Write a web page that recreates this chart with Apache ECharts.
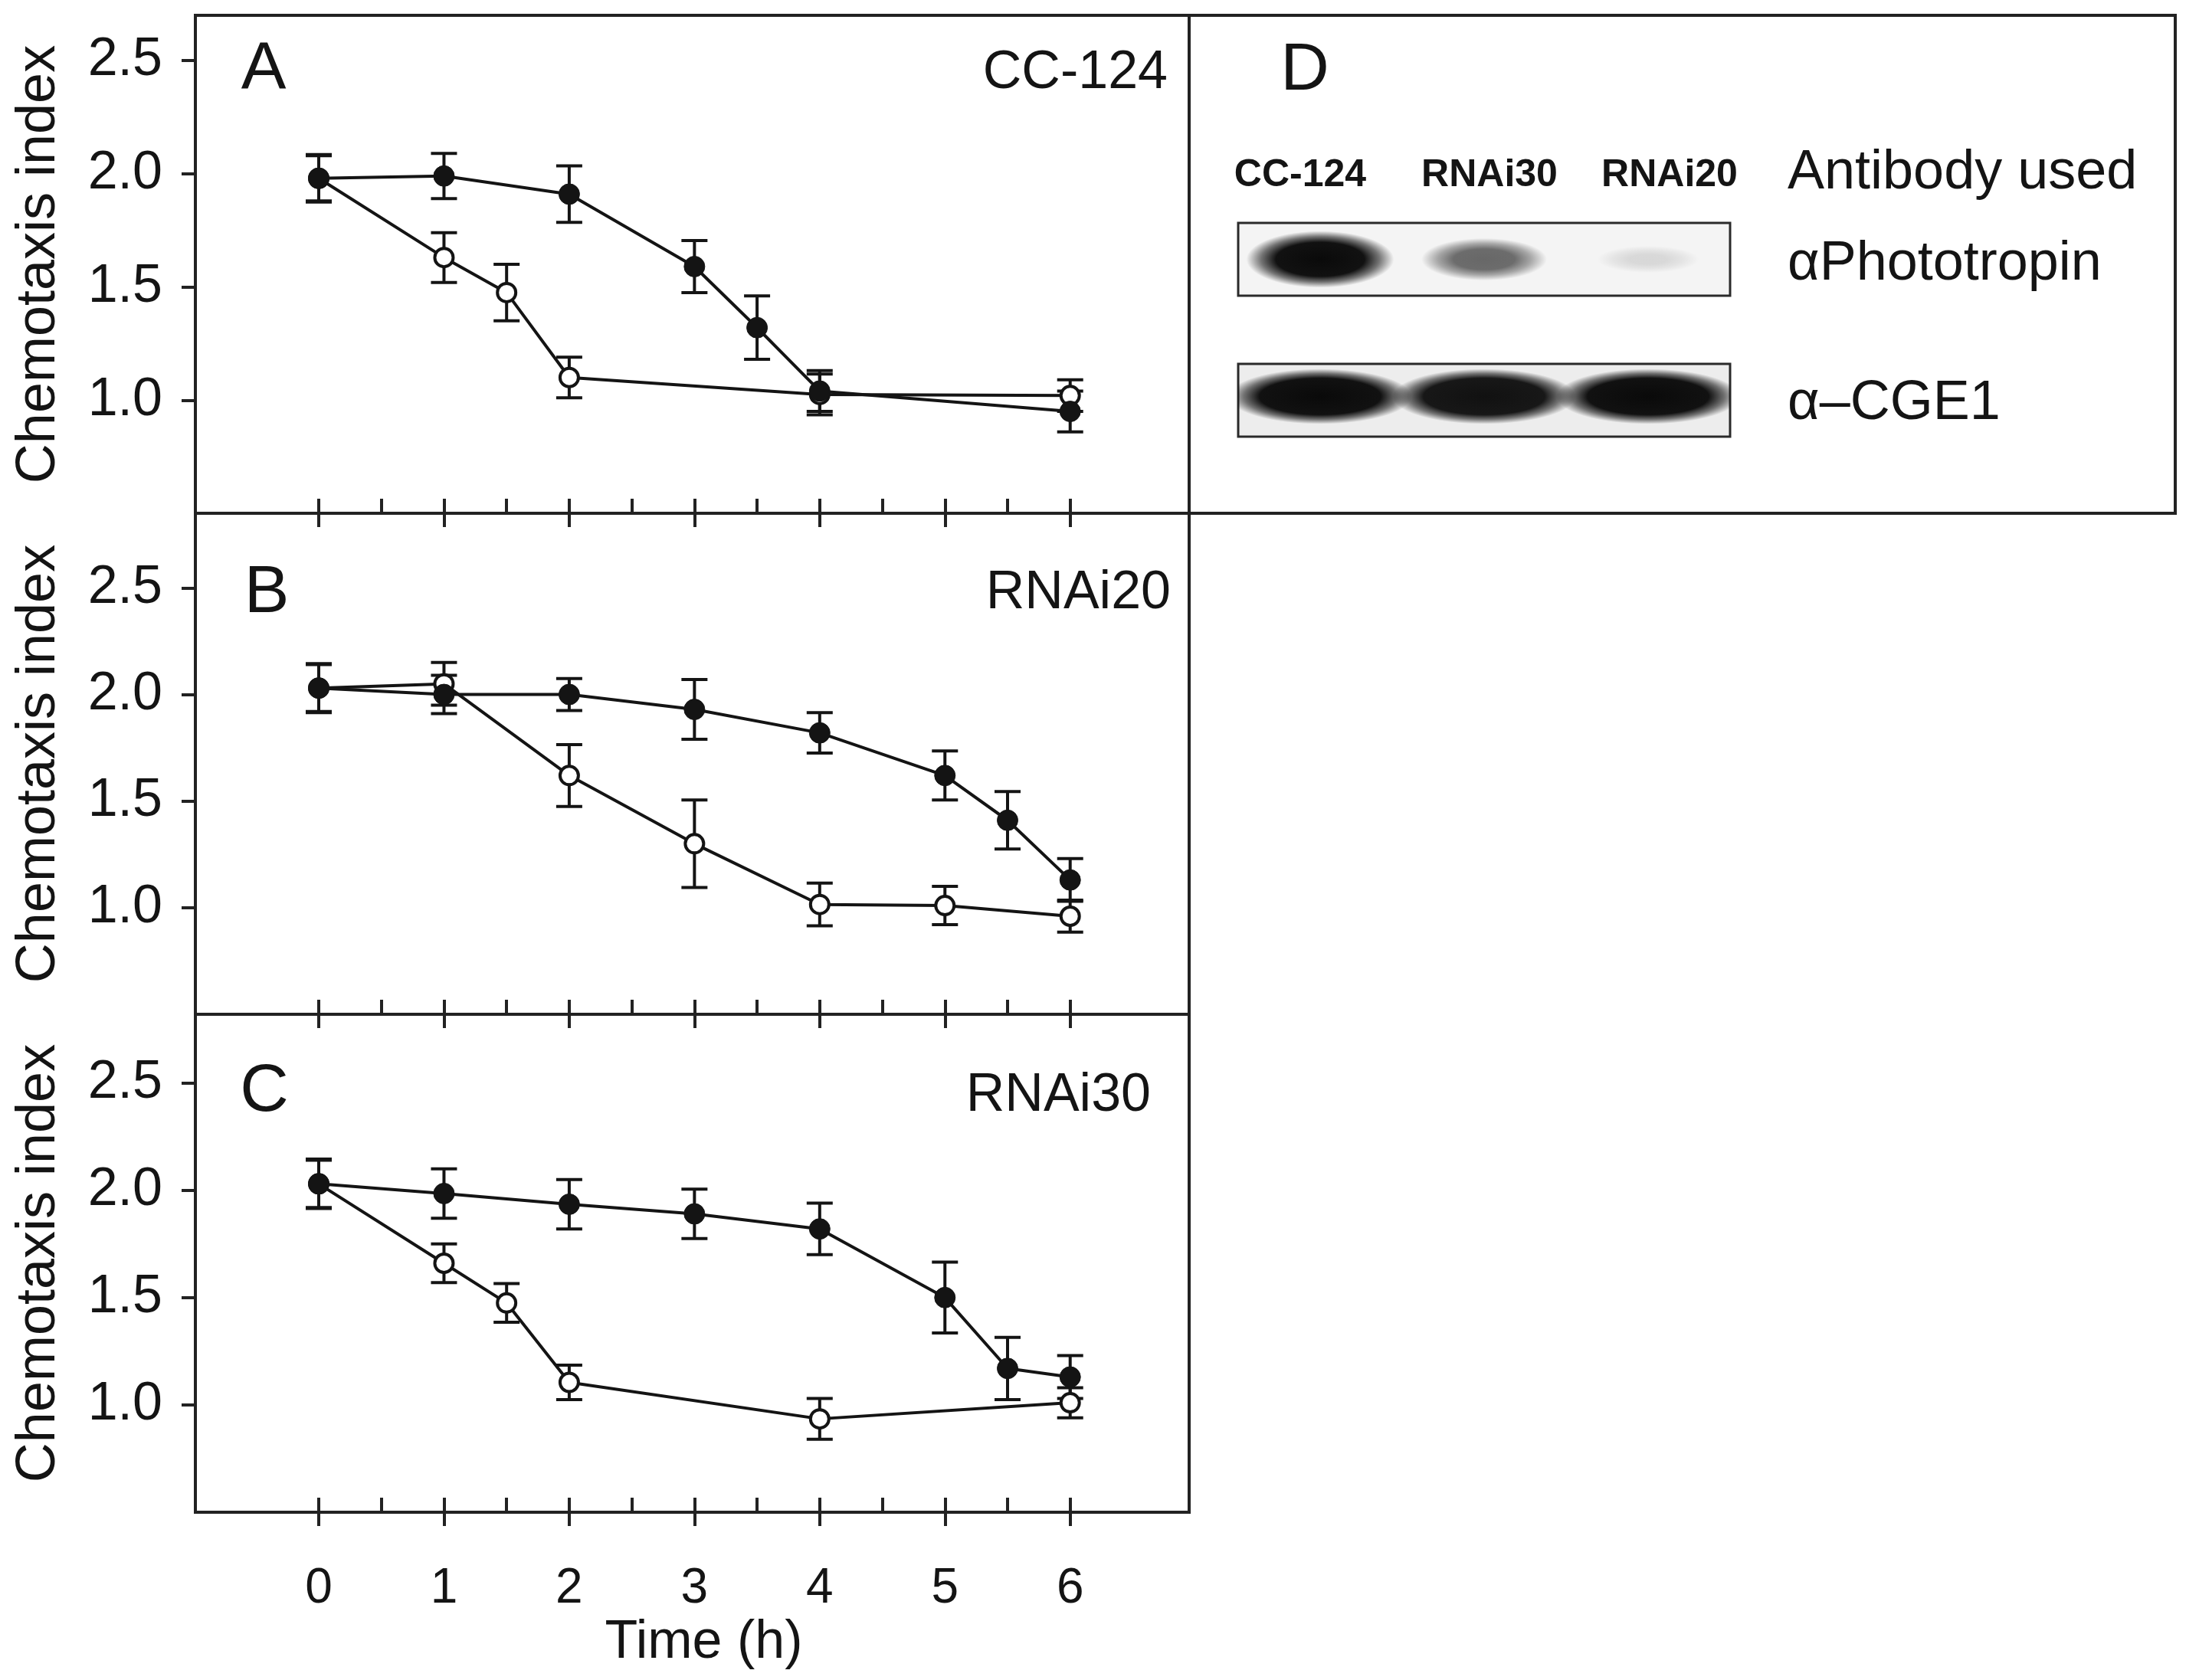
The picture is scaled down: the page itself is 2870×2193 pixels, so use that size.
<!DOCTYPE html>
<html><head><meta charset="utf-8">
<script src="https://cdn.jsdelivr.net/npm/echarts@6/dist/echarts.min.js"></script>
<style>html,body{margin:0;padding:0;background:#fff}#c{width:2870px;height:2193px}</style>
</head><body><div id="c"></div>
<script>
// ---------- data ----------
const timeTicks = [0, 1, 2, 3, 4, 5, 6];
const halfTicks = [0, 0.5, 1, 1.5, 2, 2.5, 3, 3.5, 4, 4.5, 5, 5.5, 6];
const yTicks = [1.0, 1.5, 2.0, 2.5];

// Panel A  (CC-124)
const aDarkTime = [0, 1, 2, 3, 3.5, 4, 6];
const aDarkMean = [1.98, 1.99, 1.91, 1.59, 1.32, 1.04, 0.95];
const aDarkErr  = [0.105, 0.10, 0.125, 0.115, 0.14, 0.09, 0.09];
const aLightTime = [0, 1, 1.5, 2, 4, 6];
const aLightMean = [1.98, 1.63, 1.475, 1.10, 1.025, 1.02];
const aLightErr  = [0.10, 0.11, 0.125, 0.09, 0.09, 0.07];

// Panel B  (RNAi20)
const bDarkTime = [0, 1, 2, 3, 4, 5, 5.5, 6];
const bDarkMean = [2.03, 2.00, 2.00, 1.93, 1.82, 1.62, 1.41, 1.13];
const bDarkErr  = [0.115, 0.09, 0.075, 0.14, 0.095, 0.115, 0.135, 0.10];
const bLightTime = [0, 1, 2, 3, 4, 5, 6];
const bLightMean = [2.03, 2.05, 1.62, 1.30, 1.015, 1.01, 0.96];
const bLightErr  = [0.11, 0.10, 0.145, 0.205, 0.10, 0.09, 0.075];

// Panel C  (RNAi30)
const cDarkTime = [0, 1, 2, 3, 4, 5, 5.5, 6];
const cDarkMean = [2.03, 1.985, 1.935, 1.89, 1.82, 1.50, 1.17, 1.13];
const cDarkErr  = [0.115, 0.115, 0.115, 0.115, 0.12, 0.165, 0.145, 0.10];
const cLightTime = [0, 1, 1.5, 2, 4, 6];
const cLightMean = [2.03, 1.66, 1.475, 1.105, 0.935, 1.01];
const cLightErr  = [0.11, 0.09, 0.09, 0.08, 0.095, 0.07];

const panelLetters = ['A', 'B', 'C'];
const strainNames = ['CC-124', 'RNAi20', 'RNAi30'];

// Panel D  (western blot, relative band signal per lane)
const blotLanes = ['CC-124', 'RNAi30', 'RNAi20'];
const phototropinSignal = [1.0, 0.55, 0.07];
const cge1Signal = [1.0, 0.97, 1.0];
const antibodyNames = ['\u03b1Phototropin', '\u03b1\u2013CGE1'];

// ---------- layout / style ----------
const FONT = '"Liberation Sans", Arial, Helvetica, sans-serif';
const INK = '#141414';
const panels = [
  { dark: [aDarkTime, aDarkMean, aDarkErr], light: [aLightTime, aLightMean, aLightErr], top: 20, height: 650, yMax: 2.70 },
  { dark: [bDarkTime, bDarkMean, bDarkErr], light: [bLightTime, bLightMean, bLightErr], top: 670, height: 654, yMax: 2.85 },
  { dark: [cDarkTime, cDarkMean, cDarkErr], light: [cLightTime, cLightMean, cLightErr], top: 1324, height: 650, yMax: 2.82 }
];
const GL = 255, GW = 1297, XMIN = -0.985, XMAX = 6.95;

const grid = [], xAxis = [], yAxis = [], series = [];

function pts(t, m) { return t.map((v, i) => [v, m[i]]); }
function errs(t, m, e) { return t.map((v, i) => [v, m[i] - e[i], m[i] + e[i]]); }

function errRender(params, api) {
  const x = api.value(0);
  const p1 = api.coord([x, api.value(1)]);
  const p2 = api.coord([x, api.value(2)]);
  const cap = 17;
  const st = { stroke: INK, lineWidth: 4, fill: null };
  return { type: 'group', children: [
    { type: 'line', shape: { x1: p1[0], y1: p1[1], x2: p2[0], y2: p2[1] }, style: st },
    { type: 'line', shape: { x1: p1[0] - cap, y1: p1[1], x2: p1[0] + cap, y2: p1[1] }, style: st },
    { type: 'line', shape: { x1: p2[0] - cap, y1: p2[1], x2: p2[0] + cap, y2: p2[1] }, style: st }
  ]};
}

panels.forEach((p, i) => {
  grid.push({ left: GL, top: p.top, width: GW, height: p.height, show: true,
              borderColor: '#222', borderWidth: 4, backgroundColor: 'transparent' });
  const last = i === panels.length - 1;
  xAxis.push({
    gridIndex: i, type: 'value', min: XMIN, max: XMAX, position: 'bottom',
    axisLine: { show: true, onZero: false, lineStyle: { color: '#222', width: 4 } },
    axisTick: { show: true, inside: true, length: 19, customValues: halfTicks, lineStyle: { color: '#222', width: 4 } },
    axisLabel: { show: last, customValues: timeTicks, fontSize: 64, margin: 68, color: INK, fontFamily: FONT },
    splitLine: { show: false },
    name: last ? 'Time (h)' : '', nameLocation: 'middle', nameGap: 136,
    nameTextStyle: { fontSize: 70, color: INK, fontFamily: FONT, padding: [0, 0, 0, 30] }
  });
  xAxis.push({
    gridIndex: i, type: 'value', min: XMIN, max: XMAX, position: 'bottom',
    axisLine: { show: false, onZero: false },
    axisTick: { show: true, inside: false, length: 18, customValues: timeTicks, lineStyle: { color: '#222', width: 4 } },
    axisLabel: { show: false }, splitLine: { show: false }
  });
  yAxis.push({
    gridIndex: i, type: 'value', min: 0.5, max: p.yMax,
    axisLine: { show: true, onZero: false, lineStyle: { color: '#222', width: 4 } },
    axisTick: { show: true, inside: false, length: 18, customValues: yTicks, lineStyle: { color: '#222', width: 4 } },
    axisLabel: { customValues: yTicks, formatter: v => Number(v).toFixed(1), fontSize: 70, margin: 43, color: INK, fontFamily: FONT },
    splitLine: { show: false },
    name: 'Chemotaxis index', nameLocation: 'middle', nameGap: 168,
    nameTextStyle: { fontSize: 72, color: INK, fontFamily: FONT }
  });
  const xi = 2 * i;
  series.push({ type: 'custom', xAxisIndex: xi, yAxisIndex: i, z: 2, renderItem: errRender,
    encode: { x: 0, y: [1, 2] }, data: errs(p.light[0], p.light[1], p.light[2]), silent: true });
  series.push({ type: 'custom', xAxisIndex: xi, yAxisIndex: i, z: 2, renderItem: errRender,
    encode: { x: 0, y: [1, 2] }, data: errs(p.dark[0], p.dark[1], p.dark[2]), silent: true });
  series.push({ type: 'line', name: 'light', xAxisIndex: xi, yAxisIndex: i, z: 3,
    data: pts(p.light[0], p.light[1]), symbol: 'circle', symbolSize: 24, showAllSymbol: true,
    lineStyle: { color: INK, width: 4 }, itemStyle: { color: '#fff', borderColor: INK, borderWidth: 4 } });
  series.push({ type: 'line', name: 'dark', xAxisIndex: xi, yAxisIndex: i, z: 4,
    data: pts(p.dark[0], p.dark[1]), symbol: 'circle', symbolSize: 27, showAllSymbol: true,
    lineStyle: { color: INK, width: 4 }, itemStyle: { color: INK, borderColor: INK, borderWidth: 1 } });
});

// ---------- blot grids ----------
function blob(cx, cy, rx, ry, alpha, core) {
  const c = a => 'rgba(10,10,10,' + a.toFixed(3) + ')';
  return {
    type: 'circle', x: cx, y: cy, scaleX: rx / ry, scaleY: 1,
    shape: { cx: 0, cy: 0, r: ry },
    style: { fill: { type: 'radial', x: 0.5, y: 0.5, r: 0.5, colorStops: [
      { offset: 0, color: c(alpha) },
      { offset: core, color: c(alpha * 0.97) },
      { offset: (1 + core) / 2, color: c(alpha * 0.55) },
      { offset: 1, color: c(0) }
    ] } }
  };
}
const blotRows = [
  { top: 291, signal: phototropinSignal, bg: '#f4f4f4' },
  { top: 475, signal: cge1Signal, bg: '#ededed' }
];
blotRows.forEach((r, k) => {
  const gi = grid.length;
  grid.push({ left: 1616, top: r.top, width: 642, height: 95, show: true,
              backgroundColor: r.bg, borderColor: '#2a2a2a', borderWidth: 3 });
  xAxis.push({ gridIndex: gi, type: 'category', data: blotLanes, show: false });
  yAxis.push({ gridIndex: gi, type: 'value', min: 0, max: 1, show: false });
  const xi = xAxis.length - 1, yi = yAxis.length - 1;
  series.push({
    type: 'custom', xAxisIndex: xi, yAxisIndex: yi, silent: true, clip: true,
    data: r.signal.map((s, lane) => [lane, s]),
    renderItem: (params, api) => {
      const lane = api.value(0), s = api.value(1);
      const cs = params.coordSys;
      const cx = api.coord([lane, 0])[0];
      const laneW = api.size([1, 0])[0];
      const cy = cs.y + cs.height / 2;
      if (k === 0) {
        const rx = laneW * (0.30 + 0.15 * s);
        const ry = cs.height * (0.17 + 0.22 * s);
        return blob(cx, cy, rx, ry, Math.min(1, 0.05 + 1.0 * s), 0.35 + 0.25 * s);
      }
      return blob(cx, cy - 5, laneW * 0.56, cs.height * 0.38, s, 0.66);
    }
  });
});

// ---------- texts / frames ----------
const letterPos = [[344, 92], [348, 775], [345, 1426]];
const strainPos = [[1524, 96], [1528, 775], [1502, 1431]];
const laneLabelX = [1697, 1944, 2179];
const elements = [];
panelLetters.forEach((t, i) => elements.push({ type: 'text', x: letterPos[i][0], y: letterPos[i][1],
  style: { text: t, fontSize: 88, fontFamily: FONT, fill: INK, align: 'center', verticalAlign: 'middle' } }));
strainNames.forEach((t, i) => elements.push({ type: 'text', x: strainPos[i][0], y: strainPos[i][1],
  style: { text: t, fontSize: 70, fontFamily: FONT, fill: INK, align: 'right', verticalAlign: 'middle' } }));
elements.push({ type: 'rect', shape: { x: 1552, y: 20, width: 1287, height: 650 },
  style: { fill: null, stroke: '#222', lineWidth: 4 } });
elements.push({ type: 'text', x: 1703, y: 93,
  style: { text: 'D', fontSize: 88, fontFamily: FONT, fill: INK, align: 'center', verticalAlign: 'middle' } });
blotLanes.forEach((t, i) => elements.push({ type: 'text', x: laneLabelX[i], y: 229,
  style: { text: t, fontSize: 50, fontWeight: 'bold', fontFamily: FONT, fill: INK, align: 'center', verticalAlign: 'middle' } }));
elements.push({ type: 'text', x: 2333, y: 226,
  style: { text: 'Antibody used', fontSize: 72, fontFamily: FONT, fill: INK, align: 'left', verticalAlign: 'middle' } });
elements.push({ type: 'text', x: 2333, y: 345,
  style: { text: antibodyNames[0], fontSize: 72, fontFamily: FONT, fill: INK, align: 'left', verticalAlign: 'middle' } });
elements.push({ type: 'text', x: 2333, y: 527,
  style: { text: antibodyNames[1], fontSize: 72, fontFamily: FONT, fill: INK, align: 'left', verticalAlign: 'middle' } });

const chart = echarts.init(document.getElementById('c'), null, { renderer: 'canvas' });
chart.setOption({
  animation: false,
  backgroundColor: '#ffffff',
  textStyle: { fontFamily: FONT },
  grid: grid, xAxis: xAxis, yAxis: yAxis, series: series,
  graphic: { elements: elements }
});
</script></body></html>
